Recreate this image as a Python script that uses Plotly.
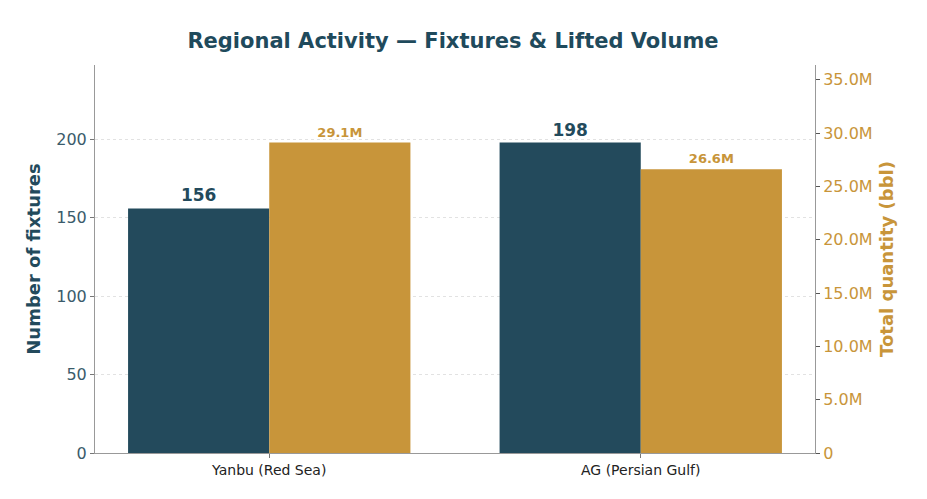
import plotly.graph_objects as go

categories = ["Yanbu (Red Sea)", "AG (Persian Gulf)"]
fixtures = [156, 198]
volume_bbl = [29.1e6, 26.6e6]
left_ticks = [0, 50, 100, 150, 200]
right_ticks = [0, 5e6, 10e6, 15e6, 20e6, 25e6, 30e6, 35e6]

DARK = "#234a5c"
GOLD = "#c8953a"
FONT = "DejaVu Sans"


def fmt_m(v):
    return "0" if v == 0 else f"{v/1e6:.1f}M"


xpos = list(range(len(categories)))
bw = 0.38

fig = go.Figure()
fig.add_trace(go.Bar(
    x=xpos, y=fixtures, width=bw, offset=-bw, marker_color=DARK,
    marker_line_width=0,
    text=[str(v) for v in fixtures], textposition="outside",
    textfont=dict(family=FONT, size=17, color=DARK, weight="bold"),
    cliponaxis=False, yaxis="y", showlegend=False,
))
fig.add_trace(go.Bar(
    x=xpos, y=volume_bbl, width=bw, offset=0, marker_color=GOLD,
    marker_line_width=0,
    text=[fmt_m(v) for v in volume_bbl], textposition="outside",
    textfont=dict(family=FONT, size=13, color=GOLD, weight="bold"),
    cliponaxis=False, yaxis="y2", showlegend=False,
))

fig.update_layout(
    width=927, height=499,
    margin=dict(l=95, r=112, t=65, b=46),
    paper_bgcolor="white", plot_bgcolor="white",
    barmode="overlay",
    title=dict(
        text="Regional Activity — Fixtures & Lifted Volume",
        x=453 / 927, xanchor="center", y=1 - 41 / 499, yanchor="middle",
        font=dict(family=FONT, size=21, color="#1f4a5c", weight="bold"),
    ),
    xaxis=dict(
        range=[-0.469, 1.469], tickvals=xpos, ticktext=categories,
        showgrid=False, zeroline=False, showline=True, linecolor="#999999",
        linewidth=1, ticks="outside", ticklen=4, tickcolor="#777777",
        tickfont=dict(family=FONT, size=14, color="#222222"),
    ),
    yaxis=dict(
        range=[0, max(fixtures) * 1.25], tickvals=left_ticks,
        showgrid=True, gridcolor="#e2e2e2", griddash="dot", gridwidth=1,
        zeroline=False, showline=True, linecolor="#999999", linewidth=1,
        ticks="outside", ticklen=4, tickcolor="#777777",
        tickfont=dict(family=FONT, size=16, color="#3a5b6b"),
        title=dict(text="Number of fixtures", standoff=10,
                   font=dict(family=FONT, size=18, color=DARK, weight="bold")),
    ),
    yaxis2=dict(
        overlaying="y", side="right",
        range=[0, max(volume_bbl) * 1.25], tickvals=right_ticks,
        ticktext=[fmt_m(v) for v in right_ticks],
        showgrid=False, zeroline=False, showline=True, linecolor="#999999",
        linewidth=1, ticks="outside", ticklen=4, tickcolor="#555555",
        tickfont=dict(family=FONT, size=16, color=GOLD),
        title=dict(text="Total quantity (bbl)", standoff=8,
                   font=dict(family=FONT, size=18, color=GOLD, weight="bold")),
    ),
)

fig.write_html("out.html")
